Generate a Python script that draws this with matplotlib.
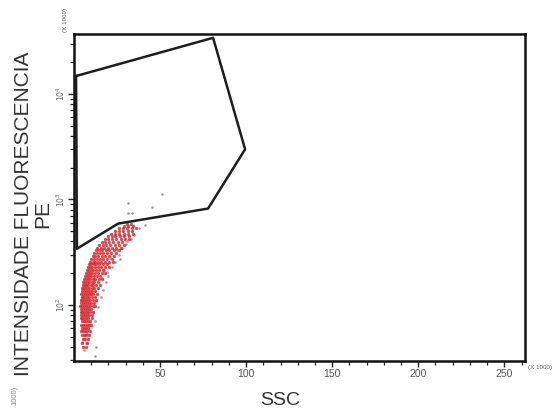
import numpy as np
import matplotlib
matplotlib.use("Agg")
import matplotlib.pyplot as plt
from matplotlib.ticker import FixedLocator, NullFormatter

plt.rcParams["font.family"] = ["Liberation Sans", "DejaVu Sans"]

# gate polygon (SSC x1000, PE)
gate_ssc = [1.2, 80.8, 99.4, 77.9, 25.6, 1.7, 1.2]
gate_pe = [14800, 34100, 2990, 820, 590, 341, 14800]

# dense red population, read row by row (PE level -> SSC values)
red_row_pe = [40, 44, 48, 52, 56, 60, 65, 70, 75, 80, 86, 92, 98, 105, 112,
              120, 128, 136, 145, 155, 165, 176, 188, 200, 214, 228, 243,
              258, 275, 292, 310, 330, 350, 372, 395, 420, 446, 474, 503,
              535, 565, 590]
red_row_ssc = [
    [5.5, 6.8],
    [4.9, 7.4],
    [5.2, 6.1, 8.0],
    [4.6, 5.8, 7.0, 8.6],
    [4.3, 5.4, 6.5, 7.7, 9.1],
    [4.8, 5.9, 7.2, 8.3],
    [4.2, 5.1, 6.2, 7.4, 8.8, 9.8],
    [4.5, 5.6, 6.7, 7.9, 9.3],
    [3.9, 4.9, 6.0, 7.1, 8.4, 10.2],
    [4.3, 5.3, 6.4, 7.6, 8.9, 10.6],
    [3.8, 4.7, 5.8, 6.9, 8.1, 9.5, 11.2],
    [4.1, 5.1, 6.2, 7.3, 8.6, 10.0],
    [3.7, 4.6, 5.6, 6.7, 7.9, 9.2, 10.9, 12.3],
    [4.2, 5.2, 6.3, 7.4, 8.6, 10.0, 11.6],
    [3.9, 4.8, 5.9, 7.0, 8.2, 9.5, 11.0, 12.8],
    [4.4, 5.4, 6.5, 7.7, 9.0, 10.4, 12.0],
    [4.1, 5.1, 6.1, 7.3, 8.5, 9.8, 11.3, 13.4],
    [4.6, 5.7, 6.8, 8.0, 9.3, 10.7, 12.4],
    [4.4, 5.4, 6.5, 7.6, 8.9, 10.2, 11.8, 14.2],
    [5.0, 6.1, 7.2, 8.4, 9.7, 11.1, 12.8, 15.0],
    [5.3, 6.4, 7.6, 8.9, 10.3, 11.9, 13.7],
    [5.8, 6.9, 8.1, 9.4, 10.8, 12.4, 14.3, 16.5],
    [6.2, 7.4, 8.7, 10.0, 11.5, 13.1, 15.2],
    [6.7, 7.9, 9.2, 10.6, 12.1, 13.8, 16.0, 18.2],
    [7.3, 8.6, 9.9, 11.3, 12.9, 14.7, 16.9],
    [7.9, 9.2, 10.6, 12.1, 13.8, 15.7, 18.0, 20.3],
    [8.6, 10.0, 11.4, 13.0, 14.8, 16.8, 19.1],
    [9.3, 10.8, 12.3, 14.0, 15.9, 18.0, 20.5, 22.6],
    [10.1, 11.6, 13.2, 15.0, 17.0, 19.2, 21.8],
    [10.8, 12.4, 14.1, 16.0, 18.1, 20.4, 23.2],
    [11.6, 13.3, 15.1, 17.1, 19.3, 21.7, 24.5],
    [12.5, 14.3, 16.2, 18.3, 20.6, 23.1, 26.0],
    [13.6, 15.4, 17.4, 19.6, 22.0, 24.6, 27.3],
    [14.8, 16.7, 18.8, 21.1, 23.6, 26.2, 28.8],
    [16.2, 18.2, 20.4, 22.8, 25.3, 28.0],
    [17.8, 19.9, 22.2, 24.6, 27.1, 29.8, 31.8],
    [19.6, 21.8, 24.1, 26.6, 29.2, 32.0],
    [21.5, 23.8, 26.2, 28.8, 31.5, 34.0],
    [23.6, 26.0, 28.5, 31.1, 33.8],
    [26.0, 28.5, 31.0, 33.6, 35.8],
    [29.0, 31.6, 34.0],
    [30.5, 33.0],
]

# sparse grey events
grey_ssc = [5.8, 7.0, 7.6, 12.2, 13.0, 11.5, 4.5, 9.0, 12, 11,
            14, 15.5, 17, 18.5, 20, 17.5, 22, 24, 21, 26, 25, 28, 30, 27,
            33, 35, 31, 13, 16, 19,
            31.4, 31.4, 33.7, 45.3, 51.2, 41, 38]
grey_pe = [37, 43.5, 53, 33, 40, 29.5, 45, 58, 70, 85,
           95, 120, 140, 165, 190, 215, 230, 255, 280, 300, 330, 350, 380, 270,
           420, 460, 400, 110, 180, 205,
           935, 752, 752, 840, 1117, 576, 540]

red_x = [x for row in red_row_ssc for x in row]
red_y = [pe for pe, row in zip(red_row_pe, red_row_ssc) for _ in row]

fig = plt.figure(figsize=(5.53, 4.16), dpi=100, facecolor="white")
ax = fig.add_axes([74 / 553, 1 - 361 / 416, 451 / 553, 327 / 416])

ax.scatter(grey_ssc, grey_pe, s=3.5, color="#a89a9a", linewidths=0, zorder=2)
ax.scatter(red_x, red_y, s=5.5, color="#d62a2e", alpha=0.85, linewidths=0, zorder=3)
ax.plot(gate_ssc, gate_pe, color="#1e1e1e", lw=1.8, zorder=4)

ax.set_yscale("log")
ax.set_xlim(0, 262)
ax.set_ylim(29.4, 37050)

ax.xaxis.set_major_locator(FixedLocator([50, 100, 150, 200, 250]))
ax.xaxis.set_minor_locator(FixedLocator([v for v in range(10, 261, 10) if v % 50]))
ax.yaxis.set_major_locator(FixedLocator([100, 1000, 10000]))
minor_y = [m * 10 ** k for k in range(1, 5) for m in range(2, 10)]
ax.yaxis.set_minor_locator(FixedLocator(minor_y))
ax.yaxis.set_minor_formatter(NullFormatter())
ax.set_yticklabels([r"$10^2$", r"$10^3$", r"$10^4$"], rotation=90, va="center",
                   fontsize=5.5, color="#666666")
ax.set_xticklabels(["50", "100", "150", "200", "250"], fontsize=7.5, color="#555555")

ax.tick_params(axis="x", which="major", direction="out", length=4, width=1.0,
               color="#222222", pad=2)
ax.tick_params(axis="y", which="major", direction="out", length=4, width=1.0,
               color="#222222", pad=1)
ax.tick_params(axis="both", which="minor", direction="out", length=3, width=0.9,
               color="#222222")
for sp in ax.spines.values():
    sp.set_linewidth(1.8)
    sp.set_color("#111111")

ax.set_xlabel("SSC", fontsize=14, color="#333333")
ax.xaxis.set_label_coords((280 - 74) / 451, -0.095)

# y label placed directly so the two lines sit where the reference has them
fig.text(33 / 553, 1 - 214 / 416, "INTENSIDADE FLUORESCENCIA\nPE", fontsize=15,
         color="#333333", rotation=90, ha="center", va="center",
         multialignment="center", linespacing=1.05)

fig.text(540 / 553, 1 - 368 / 416, "(X 1000)", fontsize=4.5, color="#666666",
         ha="center", va="center")
fig.text(66 / 553, 1 - 20 / 416, "(X 1000)", fontsize=4.5, color="#666666",
         ha="center", va="center", rotation=90)
# only the visible tail of this stray label shows in the reference
fig.text(15 / 553, 1 - 386 / 416, "1000)", fontsize=5.5, color="#888888",
         ha="center", va="top", rotation=90)

fig.savefig("out.png", dpi=100, facecolor="white")
